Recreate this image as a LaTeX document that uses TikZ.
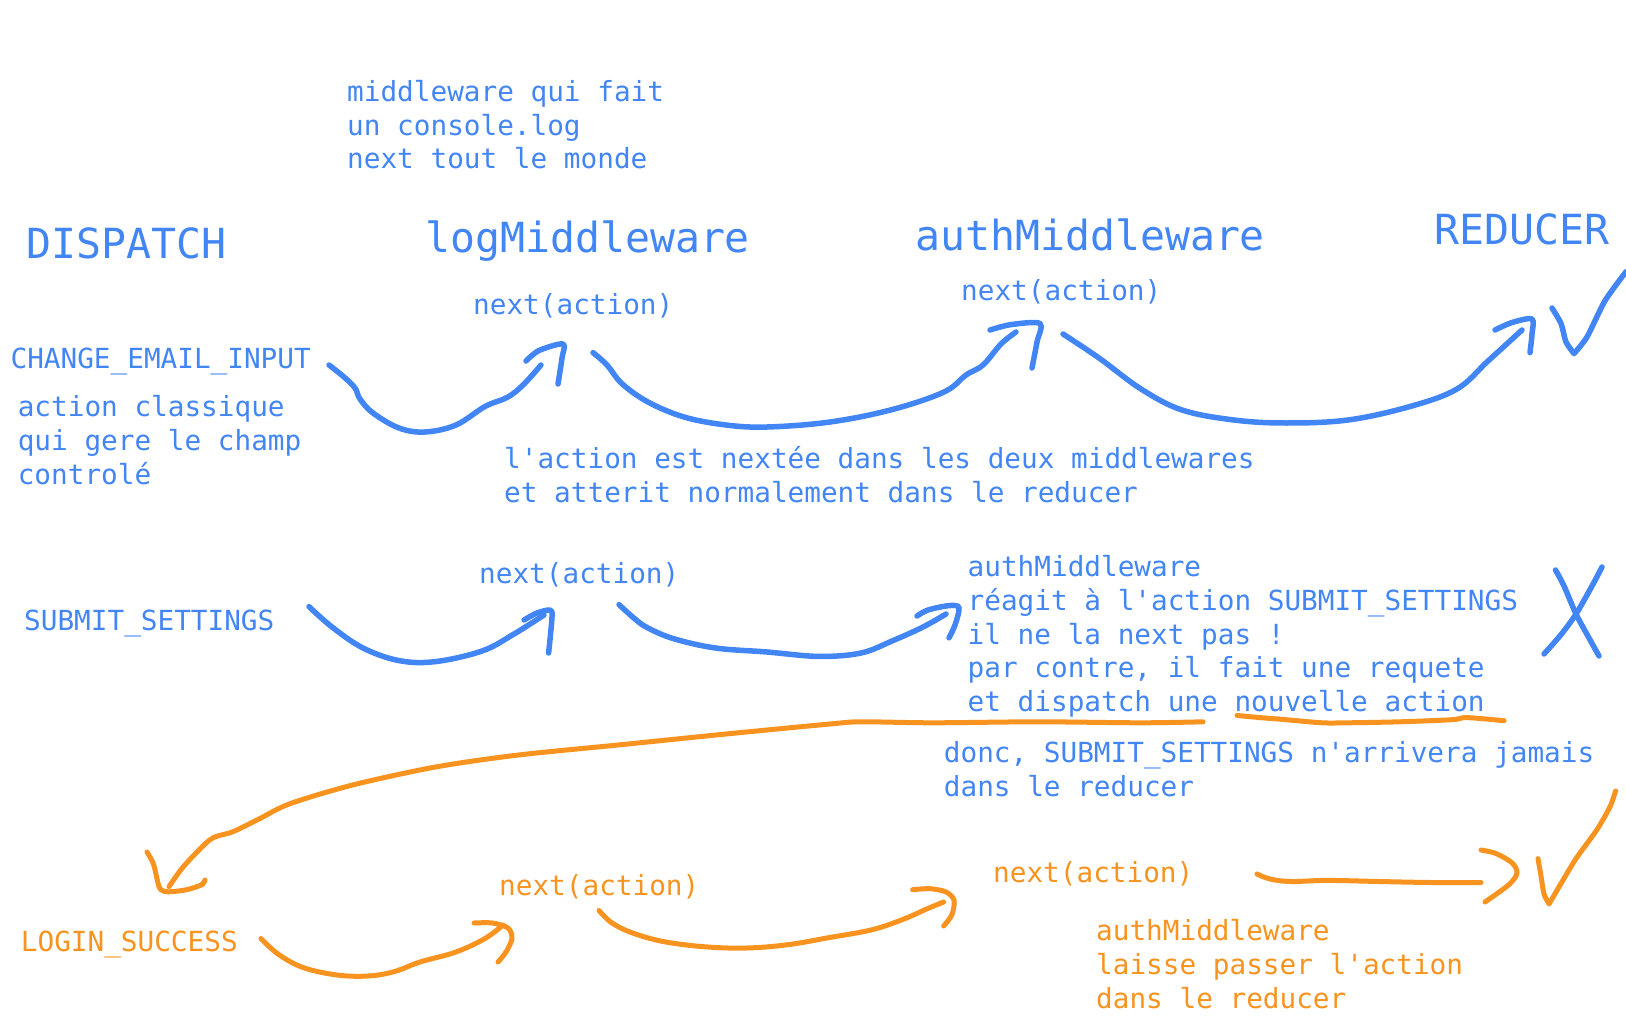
\documentclass[tikz,border=0pt]{standalone}
\usepackage{fontspec}
\newfontfamily\sketchmono{DejaVu Sans Mono}
\definecolor{skblue}{HTML}{4285F4}
\definecolor{skorange}{HTML}{F7931E}

\begin{document}
\begin{tikzpicture}[x=1pt, y=-1pt,
        smalltext/.style={inner sep=0, anchor=base west, align=left, font=\sketchmono\fontsize{27.7}{33.7}\selectfont},
        headtext/.style={inner sep=0, anchor=base west, font=\sketchmono\fontsize{41.5}{48}\selectfont},
        pen/.style={line width=5.5, line cap=round, line join=round},
        bluepen/.style={pen, draw=skblue},
        orangepen/.style={pen, line width=5, draw=skorange}
    ]
    \useasboundingbox (0,0) rectangle (1626,1035);

    % Column titles
    \node[headtext, text=skblue] (dispatch) at (26, 259) {DISPATCH};
    \node[headtext, text=skblue] (logmw) at (425, 253) {logMiddleware};
    \node[headtext, text=skblue] (authmw) at (915, 251) {authMiddleware};
    \node[headtext, text=skblue] (reducer) at (1434, 245) {REDUCER};

    % Note on the log middleware (anchored on its last line)
    \node[smalltext, text=skblue] (lognote) at (347, 169) {middleware qui fait\\un console.log\\next tout le monde};

    % Row 1: CHANGE_EMAIL_INPUT
    \node[smalltext, text=skblue] (chgemail) at (10.4, 368) {CHANGE\_EMAIL\_INPUT};
    \node[smalltext, text=skblue] (chgnote) at (17.6, 484) {action classique\\qui gere le champ\\controlé};
    \node[smalltext, text=skblue] (nextA) at (473, 315) {next(action)};
    \node[smalltext, text=skblue] (nextB) at (961, 300.7) {next(action)};
    \node[smalltext, text=skblue] (flownote) at (504, 502) {l'action est nextée dans les deux middlewares\\et atterit normalement dans le reducer};

    \draw[bluepen] plot[smooth, tension=0.6] coordinates {(329,365) (344,377) (355,388) (360,399) (373,413) (399,428) (425,432) (456,425) (485,406.5) (508,397) (524,384) (541,365)};
    \draw[bluepen] plot[smooth, tension=0.5] coordinates {(526,361) (539,350.5) (563,344) (562,358) (558,384)};
    \draw[bluepen] plot[smooth, tension=0.6] coordinates {(593,352.6) (607,365) (622,383.7) (648,402) (684,417) (726,425) (767,427) (830,422) (892,409.6) (944,392) (966,375) (983,365) (1001,344) (1016,332)};
    \draw[bluepen] plot[smooth, tension=0.5] coordinates {(990,330) (1011,324.6) (1040,323.5) (1037,342) (1032,368)};
    \draw[bluepen] plot[smooth, tension=0.6] coordinates {(1063,334) (1099,358) (1141,389) (1182,410) (1234,420) (1286,423) (1348,420) (1410,406.5) (1457,389) (1488,361) (1522,330)};
    \draw[bluepen] plot[smooth, tension=0.5] coordinates {(1495,330) (1512,322.5) (1532,319) (1532,334) (1530,352.6)};
    \draw[bluepen] plot[smooth, tension=0.4] coordinates {(1552,308) (1561,323.5) (1566,342) (1574,353.6)} -- plot[smooth, tension=0.4] coordinates {(1574,353.6) (1587,337) (1605,300.7) (1626,271.7)};

    % Row 2: SUBMIT_SETTINGS
    \node[smalltext, text=skblue] (submit) at (24, 630.5) {SUBMIT\_SETTINGS};
    \node[smalltext, text=skblue] (nextC) at (479, 583) {next(action)};
    \node[smalltext, text=skblue] (authnote) at (967.5, 711.4) {authMiddleware\\réagit à l'action SUBMIT\_SETTINGS\\il ne la next pas !\\par contre, il fait une requete\\et dispatch une nouvelle action};
    \node[smalltext, text=skblue] (donc) at (943.7, 796) {donc, SUBMIT\_SETTINGS n'arrivera jamais\\dans le reducer};

    \draw[bluepen] plot[smooth, tension=0.6] coordinates {(309,606.6) (332,627) (363,648) (399,660.6) (435.5,661.6) (482,651) (513,634.6) (544,615)};
    \draw[bluepen] plot[smooth, tension=0.5] coordinates {(524,620) (537,613) (550,610) (552,617) (548.6,653)};
    \draw[bluepen] plot[smooth, tension=0.6] coordinates {(619,604.6) (635,619) (648,628) (674,638.8) (715.5,648) (767,652) (819,656.4) (861,653) (892,641) (923,627) (946,614)};
    \draw[bluepen] plot[smooth, tension=0.5] coordinates {(917,616) (928,610) (949,605.6) (959,607.7) (955,625) (949,637.8)};
    \draw[bluepen] plot[smooth, tension=0.5] coordinates {(1555.5,570) (1564,586) (1576,614) (1589,638) (1599,656)};
    \draw[bluepen] plot[smooth, tension=0.5] coordinates {(1602,567) (1592,586) (1576,614) (1561,634.6) (1544,654)};

    % New action dispatched by authMiddleware
    \draw[orangepen] plot[smooth, tension=0.5] coordinates {(1203,721.8) (1141,722.8) (1037,721.8) (933,722.8) (861,721.8) (830,724) (726,734) (622,744.6) (518.5,755) (435.5,767) (352.6,785) (290,803.7) (259,819) (233,831.7) (212.6,838) (197,852) (181.5,869) (169,886.6)};
    \draw[orangepen] plot[smooth, tension=0.5] coordinates {(147,852) (153.5,864) (157.6,881.5) (160.7,889.7) (169,891.8) (186.7,889.7) (202,884.6) (205,880)};
    \draw[orangepen] plot[smooth, tension=0.5] coordinates {(1237,715.5) (1260,717.6) (1286,719.7) (1322,722.8) (1348,722.8) (1400,721.8) (1452,719.7) (1467,717.6) (1504,720.7)};

    % Row 3: LOGIN_SUCCESS
    \node[smalltext, text=skorange] (login) at (20.7, 951) {LOGIN\_SUCCESS};
    \node[smalltext, text=skorange] (nextD) at (499, 895) {next(action)};
    \node[smalltext, text=skorange] (nextE) at (993, 882.5) {next(action)};
    \node[smalltext, text=skorange] (passnote) at (1096, 1008) {authMiddleware\\laisse passer l'action\\dans le reducer};

    \draw[orangepen] plot[smooth, tension=0.6] coordinates {(261,938.5) (278,954) (303,967.5) (337,975) (368,976) (394,971.7) (420,962) (456,952) (485,938.5) (503,925)};
    \draw[orangepen] plot[smooth, tension=0.5] coordinates {(474,923) (492.6,923) (508,928) (512,938.5) (506,952) (498,962)};
    \draw[orangepen] plot[smooth, tension=0.6] coordinates {(599,910.5) (612,923) (632.6,933) (663.7,941.6) (705,946.8) (746.6,948) (788,944.7) (829.6,937.5) (871,930) (902,919.8) (928,908.4) (943.7,902)};
    \draw[orangepen] plot[smooth, tension=0.5] coordinates {(912.6,889.7) (930,888.7) (945.7,891.8) (954,900) (952,914.6) (943.7,926)};
    \draw[orangepen] plot[smooth, tension=0.6] coordinates {(1257,874) (1270,879) (1291,881.5) (1327,880.4) (1379,881.5) (1431,882.5) (1481,882.5)};
    \draw[orangepen] plot[smooth, tension=0.5] coordinates {(1481,850) (1496,853.5) (1512,862.8) (1517,873) (1509,884.6) (1485,902)};
    \draw[orangepen] plot[smooth, tension=0.4] coordinates {(1538,858.6) (1541,876) (1544,894) (1549,904)} -- plot[smooth, tension=0.4] coordinates {(1549,904) (1561,883.5) (1576,858.6) (1597,829.6) (1610,806.8) (1615.6,791)};
\end{tikzpicture}
\end{document}
